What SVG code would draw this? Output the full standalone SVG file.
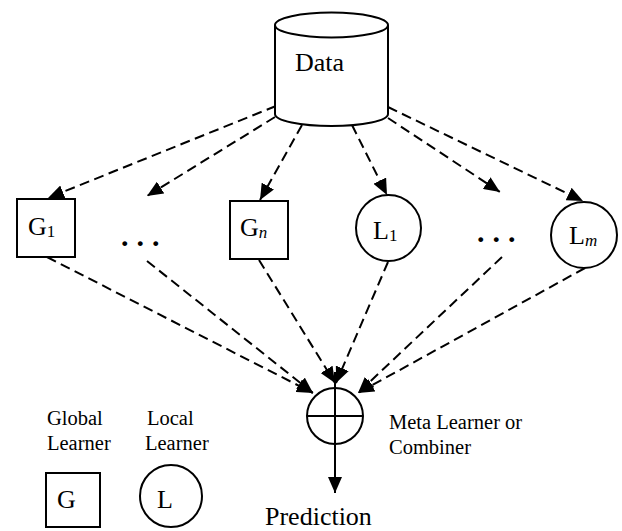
<svg xmlns="http://www.w3.org/2000/svg" width="622" height="531" viewBox="0 0 622 531">
<style>
.s{fill:#fff;stroke:#000;stroke-width:2}
.c{fill:none;stroke:#000;stroke-width:2;stroke-dasharray:10,5.5}
.t{font-family:"Liberation Serif","Times New Roman",serif;fill:#000}
.big{font-size:26px}
.sm{font-size:20.5px}
.sub{font-size:17px}
.dots{font-size:30px;font-weight:bold;letter-spacing:8px}
</style>
<defs>
<marker id="ah" markerWidth="17" markerHeight="14" refX="16" refY="7" orient="auto" markerUnits="userSpaceOnUse">
<path d="M0,0 L16,7 L0,14 z" fill="#000"/>
</marker>
</defs>
<rect width="622" height="531" fill="#fff"/>
<g id="connectors">
<line class="c" x1="276" y1="106" x2="48" y2="198" marker-end="url(#ah)"/>
<line class="c" x1="275" y1="117" x2="147" y2="196" marker-end="url(#ah)"/>
<line class="c" x1="302" y1="125" x2="260" y2="200" marker-end="url(#ah)"/>
<line class="c" x1="352" y1="125" x2="387" y2="195" marker-end="url(#ah)"/>
<line class="c" x1="388" y1="118" x2="500" y2="192" marker-end="url(#ah)"/>
<line class="c" x1="388" y1="107" x2="583" y2="201" marker-end="url(#ah)"/>
<line class="c" x1="47" y1="257" x2="313" y2="393" marker-end="url(#ah)"/>
<line class="c" x1="147" y1="261" x2="313" y2="393" marker-end="url(#ah)"/>
<line class="c" x1="259" y1="260" x2="335" y2="383" marker-end="url(#ah)"/>
<line class="c" x1="388" y1="262" x2="336" y2="383" marker-end="url(#ah)"/>
<line class="c" x1="502" y1="257" x2="358" y2="393" marker-end="url(#ah)"/>
<line class="c" x1="585" y1="268" x2="358" y2="393" marker-end="url(#ah)"/>
<line x1="335" y1="444" x2="335" y2="493" stroke="#000" stroke-width="2" marker-end="url(#ah)"/>
</g>
<g id="data">
<path class="s" d="M275,25 L275,114 A56.5,12 0 0 0 388,114 L388,25"/>
<ellipse class="s" cx="331.5" cy="25" rx="56.5" ry="12.5"/>
<text class="t big" x="295" y="71">Data</text>
</g>
<g id="g1">
<rect class="s" x="17" y="199" width="58" height="58"/>
<text class="t big" x="28" y="235">G<tspan class="sub" dy="2">1</tspan></text>
</g>
<g id="dots1"><text class="t dots" x="121" y="246">...</text></g>
<g id="gn">
<rect class="s" x="230" y="201" width="58" height="58"/>
<text class="t big" x="240" y="236">G<tspan class="sub" dy="2" font-style="italic">n</tspan></text>
</g>
<g id="l1">
<ellipse class="s" cx="388.5" cy="228" rx="32.5" ry="33"/>
<text class="t big" x="373" y="239">L<tspan class="sub" dy="2">1</tspan></text>
</g>
<g id="dots2"><text class="t dots" x="477" y="242">...</text></g>
<g id="lm">
<ellipse class="s" cx="584" cy="235" rx="33" ry="33"/>
<text class="t big" x="569" y="244">L<tspan class="sub" dy="2" font-style="italic">m</tspan></text>
</g>
<g id="combiner">
<circle class="s" cx="335" cy="416" r="28"/>
<line x1="307" y1="416" x2="363" y2="416" stroke="#000" stroke-width="2"/>
<line x1="335" y1="372" x2="335" y2="444" stroke="#000" stroke-width="2"/>
<text class="t sm" x="389" y="429">Meta Learner or</text>
<text class="t sm" x="389" y="454">Combiner</text>
</g>
<g id="prediction"><text class="t big" x="265" y="525">Prediction</text></g>
<g id="legend">
<text class="t sm" x="47" y="425">Global</text>
<text class="t sm" x="47" y="450">Learner</text>
<text class="t sm" x="147" y="425">Local</text>
<text class="t sm" x="145" y="450">Learner</text>
<rect class="s" x="46" y="473" width="54" height="54"/>
<text class="t big" x="57" y="508">G</text>
<circle class="s" cx="171" cy="496" r="31"/>
<text class="t big" x="157" y="508">L</text>
</g>
</svg>
